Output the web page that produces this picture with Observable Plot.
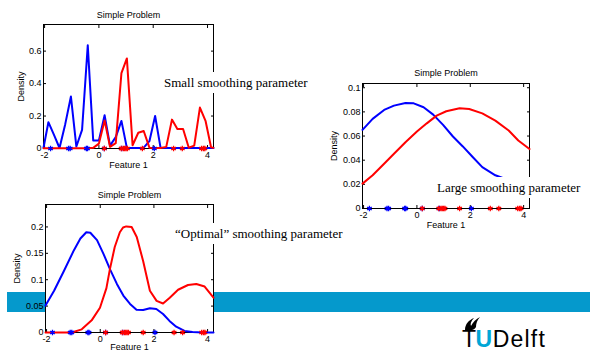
<!DOCTYPE html>
<html><head><meta charset="utf-8">
<script src="https://cdn.jsdelivr.net/npm/d3@7"></script>
<script src="https://cdn.jsdelivr.net/npm/@observablehq/plot@0.6"></script>
<style>
html,body{margin:0;padding:0;background:#fff;}
#slide{position:relative;width:590px;height:352px;overflow:hidden;background:#fff;}
.panel{position:absolute;z-index:1;}
#band{position:absolute;left:7px;top:292px;width:583px;height:20px;background:#0599cc;z-index:0;}
.note{position:absolute;z-index:3;background:#fff;font-family:"Liberation Serif","Times New Roman",serif;font-size:13px;line-height:21px;height:21px;white-space:nowrap;color:#000;}
#logo{position:absolute;left:455px;top:312px;z-index:3;}
</style></head><body><div id="slide"><div id="band"></div></div>
<script>
// ---------- data ----------
const xDomain = [-2.04, 4.22];
const xTicks = [-2, 0, 2, 4];
const titleText = "Simple Problem";
const xLabel = "Feature 1";
const yLabel = "Density";

// sample points (rug)
const blueSamples = [-1.78, -1.12, -1.06, -0.46, -0.42, 0.2, 0.84, 2.04];
const redSamples = [0.2, 0.82, 0.9, 0.95, 1.0, 1.05, 1.6, 2.75, 3.07, 3.78, 3.85, 3.9];

// panel 1: small smoothing parameter
const grid1 = [-2.04, -1.86, -1.65, -1.45, -1.24, -1.03, -0.83, -0.62, -0.41, -0.21, 0, 0.21, 0.41, 0.62, 0.83, 1.03, 1.24, 1.45, 1.65, 1.86, 2.07, 2.27, 2.48, 2.69, 2.89, 3.1, 3.31, 3.51, 3.72, 3.93, 4.13, 4.22];
const blue1 = [0.005, 0.162, 0.082, 0.003, 0.15, 0.32, 0.012, 0.115, 0.636, 0.05, 0.05, 0.205, 0.018, 0.07, 0.17, 0.004, 0.003, 0.003, 0.005, 0.045, 0.2, 0.005, 0.003, 0.003, 0.003, 0.003, 0.003, 0.003, 0.003, 0.003, 0.003, 0.003];
const red1 = [0.002, 0.002, 0.002, 0.002, 0.002, 0.002, 0.002, 0.002, 0.002, 0.004, 0.03, 0.173, 0.01, 0.033, 0.465, 0.555, 0.02, 0.097, 0.108, 0.005, 0.003, 0.003, 0.01, 0.178, 0.12, 0.12, 0.005, 0.018, 0.252, 0.168, 0.008, 0.004];
const yDomain1 = [0, 0.764];
const yTicks1 = [0, 0.2, 0.4, 0.6];

// panel 2: large smoothing parameter
const blue2x = [-2.04, -1.66, -1.23, -0.86, -0.43, -0.12, 0.25, 0.61, 0.98, 1.35, 1.72, 2.09, 2.45, 2.94, 3.19, 3.6, 4.22];
const blue2 = [0.0651, 0.0742, 0.0816, 0.0852, 0.0874, 0.0871, 0.0838, 0.0777, 0.0692, 0.0596, 0.0514, 0.0426, 0.0343, 0.0275, 0.0255, 0.022, 0.016];
const red2x = [-2.04, -1.66, -1.23, -0.86, -0.43, 0, 0.37, 0.74, 1.1, 1.6, 1.96, 2.45, 2.94, 3.44, 3.8, 4.22];
const red2 = [0.0206, 0.0275, 0.0371, 0.0453, 0.0549, 0.0637, 0.0705, 0.0769, 0.0805, 0.083, 0.0824, 0.0788, 0.0728, 0.0646, 0.0563, 0.0492];
const yDomain2 = [0, 0.1035];
const yTicks2 = [0, 0.02, 0.04, 0.06, 0.08, 0.1];

// panel 3: "optimal" smoothing parameter
const blue3x = [-2.04, -1.72, -1.35, -0.98, -0.74, -0.52, -0.37, -0.12, 0.12, 0.37, 0.62, 0.86, 1.11, 1.35, 1.6, 1.85, 2.09, 2.34, 2.58, 2.83, 3.14, 3.44, 3.8, 4.22];
const blue3 = [0.051, 0.079, 0.117, 0.156, 0.178, 0.19, 0.189, 0.175, 0.149, 0.119, 0.092, 0.07, 0.054, 0.043, 0.0425, 0.046, 0.0444, 0.035, 0.022, 0.011, 0.003, 0.001, 0, 0];
const red3x = [-2.04, -1.23, -1.0, -0.69, -0.32, -0.01, 0.23, 0.36, 0.54, 0.73, 0.85, 0.97, 1.17, 1.36, 1.6, 1.85, 2.1, 2.34, 2.59, 2.9, 3.27, 3.58, 3.89, 4.22];
const red3 = [0, 0, 0.001, 0.006, 0.023, 0.047, 0.084, 0.12, 0.162, 0.19, 0.199, 0.201, 0.2, 0.181, 0.135, 0.079, 0.06, 0.055, 0.066, 0.081, 0.09, 0.092, 0.087, 0.066];
const yDomain3 = [0, 0.2425];
const yTicks3 = [0, 0.05, 0.1, 0.15, 0.2];

const notes = ["Small smoothing parameter", "Large smoothing parameter", "\u201COptimal\u201D smoothing parameter"];

// ---------- drawing ----------
const BLUE = "#0000ff", RED = "#ff0000";
const fmt = d => String(d);

function panel(o) {
  const bd = o.bx.map((x, i) => ({x, y: o.by[i]}));
  const rd = o.rx.map((x, i) => ({x, y: o.ry[i]}));
  const svg = Plot.plot({
    width: o.width, height: o.height,
    marginLeft: o.ml, marginRight: o.mr, marginTop: o.mt, marginBottom: o.mb,
    style: {background: "transparent", overflow: "visible", fontFamily: "'Liberation Sans', Arial, sans-serif", fontSize: "9px", color: "#000"},
    x: {domain: xDomain},
    y: {domain: o.yDomain},
    marks: [
      Plot.frame({fill: "white", stroke: "none"}),
      Plot.frame({stroke: "black", strokeWidth: 1}),
      Plot.axisX({ticks: xTicks, tickSize: -3, tickPadding: 6, tickFormat: fmt, label: null}),
      Plot.axisX({anchor: "top", ticks: xTicks, tickSize: -3, fill: "none", label: null}),
      Plot.axisY({ticks: o.yTicks, tickSize: -3, tickPadding: 5, tickFormat: fmt, label: null}),
      Plot.axisY({anchor: "right", ticks: o.yTicks, tickSize: -3, fill: "none", label: null}),
      Plot.line(bd, {x: "x", y: "y", stroke: BLUE, strokeWidth: 2}),
      Plot.line(rd, {x: "x", y: "y", stroke: RED, strokeWidth: 2}),
      Plot.dot(blueSamples, {x: d => d, y: d => 0, symbol: "asterisk", r: 2.5, stroke: BLUE, strokeWidth: 1.3}),
      Plot.dot(redSamples, {x: d => d, y: d => 0, symbol: "asterisk", r: 2.5, stroke: RED, strokeWidth: 1.3}),
      Plot.text([titleText], {text: d => d, frameAnchor: "top", dy: o.titleDy, lineAnchor: "middle", fontSize: 9}),
      Plot.text([yLabel], {text: d => d, frameAnchor: "left", dx: o.densDx, rotate: -90, textAnchor: "middle", lineAnchor: "middle", fontSize: 9}),
      Plot.text([xLabel], {text: d => d, frameAnchor: "bottom", dy: o.featDy, lineAnchor: "middle", fontSize: 9})
    ]
  });
  svg.classList.add("panel");
  svg.style.left = o.left + "px";
  svg.style.top = o.top + "px";
  svg.style.position = "absolute";
  return svg;
}

const slide = document.getElementById("slide");
slide.appendChild(panel({left: 0, top: 0, width: 230, height: 175, ml: 43, mr: 17, mt: 24, mb: 27,
  bx: grid1, by: blue1, rx: grid1, ry: red1, yDomain: yDomain1, yTicks: yTicks1, titleDy: -9, densDx: -22, featDy: 17}));
slide.appendChild(panel({left: 310, top: 60, width: 240, height: 175, ml: 52, mr: 21, mt: 23, mb: 27,
  bx: blue2x, by: blue2, rx: red2x, ry: red2, yDomain: yDomain2, yTicks: yTicks2, titleDy: -10, densDx: -28, featDy: 17}));
slide.appendChild(panel({left: 0, top: 180, width: 230, height: 172, ml: 45, mr: 17, mt: 24, mb: 20,
  bx: blue3x, by: blue3, rx: red3x, ry: red3, yDomain: yDomain3, yTicks: yTicks3, titleDy: -9, densDx: -28, featDy: 14.5}));

const notePos = [{left: 160, top: 72, pad: 4}, {left: 433, top: 177, pad: 4}, {left: 171, top: 223, pad: 4}];
notes.forEach((t, i) => {
  const d = document.createElement("div");
  d.className = "note";
  d.textContent = t;
  d.style.left = notePos[i].left + "px";
  d.style.top = notePos[i].top + "px";
  d.style.padding = "0 " + notePos[i].pad + "px";
  slide.appendChild(d);
});

// TU Delft logo (text + small flame)
const ns = "http://www.w3.org/2000/svg";
const logo = document.createElementNS(ns, "svg");
logo.setAttribute("id", "logo");
logo.setAttribute("width", "110");
logo.setAttribute("height", "40");
logo.innerHTML = '<path d="M10,18 C10,12 14,8 19,6 C16,9 15,12 16,14 C18,10 21,7 25,5 C22,8 21,12 21,15 C20,17 18,18 17,18 Z" fill="#000"/>' +
  '<text x="7" y="35" font-family="Liberation Sans, Arial, sans-serif" font-size="23">' +
  '<tspan fill="#000" letter-spacing="-0.5">T</tspan><tspan fill="#00a6d6" font-weight="bold" letter-spacing="0.5">U</tspan><tspan fill="#000" letter-spacing="1.2">Delft</tspan></text>';
slide.appendChild(logo);
</script></body></html>
